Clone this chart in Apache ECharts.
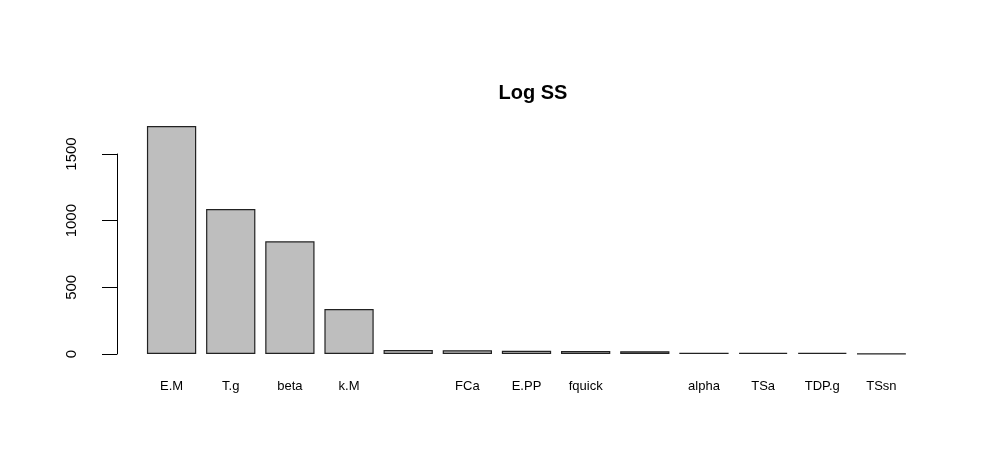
<!DOCTYPE html>
<html>
<head>
<meta charset="utf-8">
<script src="https://cdn.jsdelivr.net/npm/echarts@6/dist/echarts.min.js"></script>
<style>
    html, body {margin: 0; padding: 0; background: #fff;}
    #chart {width: 997px; height: 449px;}
</style>
</head>
<body>
<div id="chart"></div>
<script>
// parameter names (two labels are dropped by R because they would overlap)
const categories = ["E.M", "T.g", "beta", "k.M", "", "FCa", "E.PP", "fquick", "", "alpha", "TSa", "TDP.g", "TSsn"];
const logSS = [1710, 1088, 845, 338, 30, 28, 24, 22, 21, 10, 9, 8, 3];
const yTicks = [0, 500, 1000, 1500];

const chart = echarts.init(document.getElementById("chart"));
const font = "Liberation Sans, Arial, sans-serif";

chart.setOption({
    backgroundColor: "#ffffff",
    animation: false,
    title: {
        text: "Log SS",
        left: 528,
        top: 78,
        textAlign: "center",
        textStyle: {fontFamily: font, fontSize: 20, fontWeight: "bold", color: "#000"}
    },
    grid: [
        {left: 142, right: 86, top: 114, bottom: 95},
        {left: 117, right: 86, top: 154, bottom: 95}
    ],
    xAxis: [
        {
            type: "category",
            gridIndex: 0,
            data: categories,
            axisLine: {show: false},
            axisTick: {show: false},
            axisLabel: {interval: 0, margin: 26, fontFamily: font, fontSize: 13, color: "#000"}
        },
        {type: "value", gridIndex: 1, show: false}
    ],
    yAxis: [
        {type: "value", gridIndex: 0, min: 0, max: 1800, show: false},
        {
            type: "value",
            gridIndex: 1,
            min: yTicks[0],
            max: yTicks[yTicks.length - 1],
            interval: 500,
            axisLine: {show: true, lineStyle: {color: "#000", width: 1}},
            axisTick: {show: true, length: 15, lineStyle: {color: "#000"}},
            splitLine: {show: false},
            axisLabel: {
                rotate: 90,
                margin: 38,
                fontFamily: font,
                fontSize: 15,
                color: "#000",
                formatter: value => String(value)
            }
        }
    ],
    series: [{
        type: "bar",
        xAxisIndex: 0,
        yAxisIndex: 0,
        data: logSS,
        barCategoryGap: "16.7%",
        itemStyle: {color: "#bebebe", borderColor: "#222", borderWidth: 1.2}
    }]
});
</script>
</body>
</html>
